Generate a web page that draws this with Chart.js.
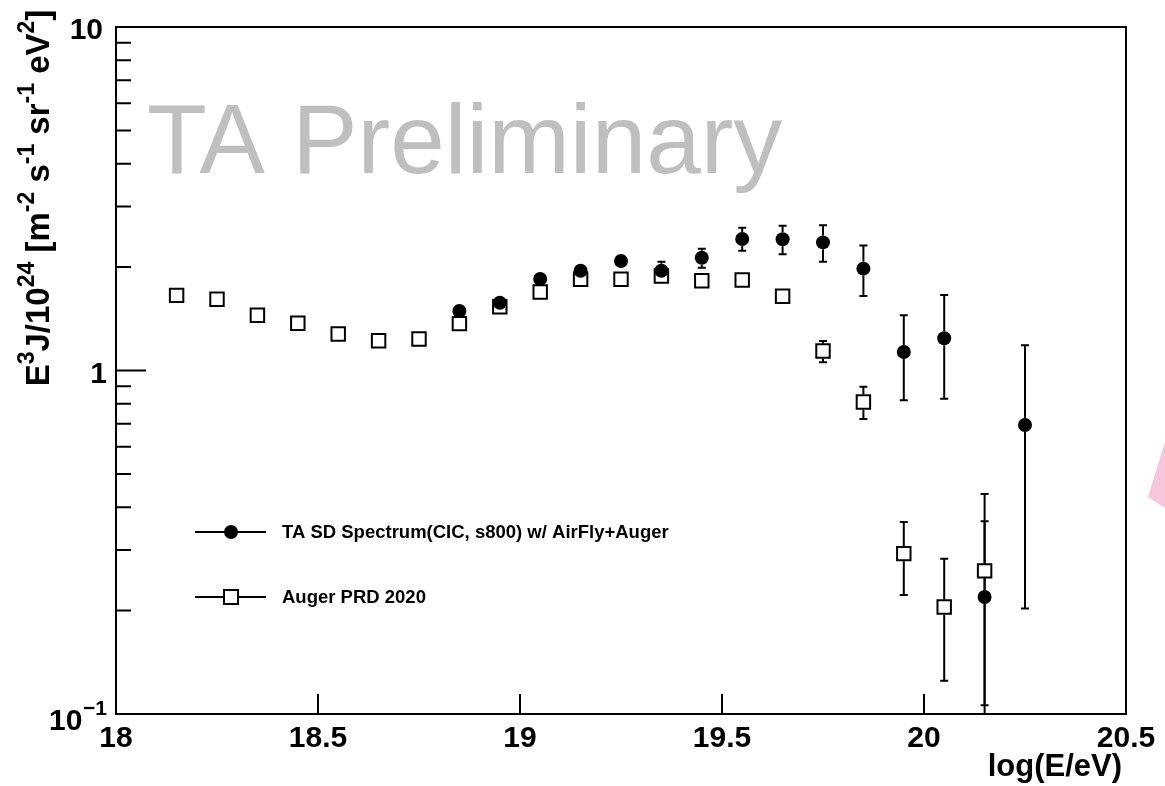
<!DOCTYPE html>
<html>
<head>
<meta charset="utf-8">
<script src="https://cdn.jsdelivr.net/npm/chart.js@4"></script>
<style>
  html, body { margin: 0; padding: 0; background: #fff; }
  canvas { display: block; }
</style>
</head>
<body>
<canvas id="spec" width="1165" height="786"></canvas>
<script>
(function(){
  // --- data ---
  const seriesNames = ['TA SD Spectrum(CIC, s800) w/ AirFly+Auger', 'Auger PRD 2020'];

  const taX    = [18.85, 18.95, 19.05, 19.15, 19.25, 19.35, 19.45, 19.55, 19.65, 19.75, 19.85, 19.95, 20.05, 20.15, 20.25];
  const taY    = [1.490, 1.575, 1.846, 1.952, 2.084, 1.952, 2.130, 2.414, 2.410, 2.360, 1.979, 1.132, 1.241, 0.219, 0.694];
  const taUp   = [0.02, 0.02, 0.03, 0.04, 0.05, 0.12, 0.133, 0.19, 0.23, 0.286, 0.331, 0.316, 0.418, 0.218, 0.49];
  const taDown = [0.02, 0.02, 0.03, 0.04, 0.05, 0.10, 0.138, 0.183, 0.23, 0.287, 0.332, 0.313, 0.413, 0.215, 0.491];

  const augX    = [18.15, 18.25, 18.35, 18.45, 18.55, 18.65, 18.75, 18.85, 18.95, 19.05, 19.15, 19.25, 19.35, 19.45, 19.55, 19.65, 19.75, 19.85, 19.95, 20.05, 20.15];
  const augY    = [1.655, 1.612, 1.448, 1.372, 1.277, 1.221, 1.235, 1.369, 1.533, 1.692, 1.843, 1.843, 1.884, 1.826, 1.835, 1.644, 1.140, 0.810, 0.293, 0.205, 0.261];
  const augUp   = [0.01, 0.01, 0.01, 0.01, 0.01, 0.01, 0.01, 0.01, 0.01, 0.02, 0.02, 0.02, 0.03, 0.03, 0.03, 0.04, 0.079, 0.087, 0.069, 0.078, 0.103];
  const augDown = [0.01, 0.01, 0.01, 0.01, 0.01, 0.01, 0.01, 0.01, 0.01, 0.02, 0.02, 0.02, 0.03, 0.03, 0.03, 0.04, 0.084, 0.088, 0.071, 0.080, 0.155];

  const xTicks = [18, 18.5, 19, 19.5, 20, 20.5];
  const yMajor = [0.1, 1, 10];
  const yMinor = [0.2, 0.3, 0.4, 0.5, 0.6, 0.7, 0.8, 0.9, 2, 3, 4, 5, 6, 7, 8, 9];

  const FONT = '"Liberation Sans", Arial, Helvetica, sans-serif';

  const toPts = (xs, ys) => xs.map((x, i) => ({x: x, y: ys[i]}));

  // error bars with caps; the bar stops at the marker edge
  function drawErrors(ctx, chart, xs, ys, up, down, half) {
    const sx = chart.scales.x, sy = chart.scales.y;
    for (let i = 0; i < xs.length; i++) {
      const px = sx.getPixelForValue(xs[i]);
      const py = sy.getPixelForValue(ys[i]);
      const top = sy.getPixelForValue(ys[i] + up[i]);
      const bot = sy.getPixelForValue(Math.max(ys[i] - down[i], 1e-4));
      ctx.beginPath();
      if (top < py - half - 1) {
        ctx.moveTo(px, py - half); ctx.lineTo(px, top);
        ctx.moveTo(px - 4, top); ctx.lineTo(px + 4, top);
      }
      if (bot > py + half + 1) {
        ctx.moveTo(px, py + half); ctx.lineTo(px, bot);
        ctx.moveTo(px - 4, bot); ctx.lineTo(px + 4, bot);
      }
      ctx.stroke();
    }
  }

  function supText(ctx, parts, x, y, big, small, rise) {
    let cx = x;
    parts.forEach(p => {
      ctx.font = 'bold ' + (p.s ? small : big) + 'px ' + FONT;
      ctx.fillText(p.t, cx, p.s ? y - rise : y);
      cx += ctx.measureText(p.t).width;
    });
    return cx - x;
  }

  const decor = {
    id: 'decor',
    beforeDatasetsDraw(chart) {
      const ctx = chart.ctx, a = chart.chartArea;
      ctx.save();
      // watermark
      ctx.fillStyle = '#bfbfbf';
      ctx.font = '98px ' + FONT;
      ctx.textAlign = 'left';
      ctx.textBaseline = 'alphabetic';
      ctx.fillText('TA Preliminary', 147, 173);

      // error bars
      ctx.beginPath();
      ctx.rect(a.left, a.top, a.right - a.left, a.bottom - a.top);
      ctx.clip();
      ctx.strokeStyle = '#000';
      ctx.lineWidth = 2;
      drawErrors(ctx, chart, taX, taY, taUp, taDown, 7);
      drawErrors(ctx, chart, augX, augY, augUp, augDown, 7.5);
      ctx.restore();
    },
    afterDraw(chart) {
      const ctx = chart.ctx, a = chart.chartArea;
      const sx = chart.scales.x, sy = chart.scales.y;
      ctx.save();
      ctx.strokeStyle = '#000';
      ctx.fillStyle = '#000';
      ctx.lineWidth = 2;
      ctx.strokeRect(a.left, a.top, a.right - a.left, a.bottom - a.top);

      // ticks
      ctx.beginPath();
      xTicks.forEach(v => {
        const p = sx.getPixelForValue(v);
        ctx.moveTo(p, a.bottom); ctx.lineTo(p, a.bottom - 20);
      });
      yMajor.forEach(v => {
        const p = sy.getPixelForValue(v);
        ctx.moveTo(a.left, p); ctx.lineTo(a.left + 30, p);
      });
      yMinor.forEach(v => {
        const p = sy.getPixelForValue(v);
        ctx.moveTo(a.left, p); ctx.lineTo(a.left + 15, p);
      });
      ctx.stroke();

      // x tick labels
      ctx.font = 'bold 30px ' + FONT;
      ctx.textAlign = 'center';
      ctx.textBaseline = 'alphabetic';
      xTicks.forEach(v => {
        ctx.fillText(String(v), sx.getPixelForValue(v), a.bottom + 33);
      });

      // y tick labels
      ctx.textAlign = 'right';
      ctx.fillText('10', 103, sy.getPixelForValue(10) + 12);
      ctx.fillText('1', 107, sy.getPixelForValue(1) + 12);
      ctx.textAlign = 'left';
      ctx.fillText('10', 49, sy.getPixelForValue(0.1) + 16);
      ctx.font = 'bold 21px ' + FONT;
      ctx.fillText('\u22121', 83, sy.getPixelForValue(0.1) + 1);

      // x title
      ctx.font = 'bold 31px ' + FONT;
      ctx.textAlign = 'right';
      ctx.fillText('log(E/eV)', 1122, 776);

      // y title (rotated, with superscripts)
      const yParts = [
        {t: 'E'}, {t: '3', s: 1}, {t: 'J/10'}, {t: '24', s: 1}, {t: ' [m'}, {t: '-2', s: 1},
        {t: ' s'}, {t: '-1', s: 1}, {t: ' sr'}, {t: '-1', s: 1}, {t: ' eV'}, {t: '2', s: 1}, {t: ']'}
      ];
      ctx.textAlign = 'left';
      let w = 0;
      yParts.forEach(p => {
        ctx.font = 'bold ' + (p.s ? 23 : 33) + 'px ' + FONT;
        w += ctx.measureText(p.t).width;
      });
      ctx.save();
      ctx.translate(49, 198 + w / 2);
      ctx.rotate(-Math.PI / 2);
      supText(ctx, yParts, 0, 0, 33, 23, 15);
      ctx.restore();

      // legend
      const rows = [532, 597];
      ctx.lineWidth = 2;
      rows.forEach((ly, k) => {
        ctx.beginPath();
        ctx.moveTo(195, ly); ctx.lineTo(266, ly);
        ctx.stroke();
        if (k === 0) {
          ctx.beginPath();
          ctx.arc(231, ly, 7, 0, Math.PI * 2);
          ctx.fill();
        } else {
          ctx.fillStyle = '#fff';
          ctx.fillRect(224, ly - 7, 14, 14);
          ctx.fillStyle = '#000';
          ctx.strokeRect(224, ly - 7, 14, 14);
        }
        ctx.font = 'bold 18.5px ' + FONT;
        ctx.textAlign = 'left';
        ctx.fillText(seriesNames[k], 282, ly + 6);
      });

      // pink slide fragment at the right edge
      ctx.fillStyle = '#f5c6dd';
      ctx.beginPath();
      ctx.moveTo(1165, 442);
      ctx.lineTo(1148, 497);
      ctx.lineTo(1165, 508);
      ctx.closePath();
      ctx.fill();
      ctx.restore();
    }
  };

  const ctx = document.getElementById('spec').getContext('2d');
  new Chart(ctx, {
    type: 'scatter',
    data: {
      datasets: [{
        label: seriesNames[0],
        data: toPts(taX, taY),
        order: 0,
        pointStyle: 'circle',
        pointRadius: 7,
        backgroundColor: '#000',
        borderColor: '#000',
        borderWidth: 0
      }, {
        label: seriesNames[1],
        data: toPts(augX, augY),
        order: 1,
        pointStyle: 'rect',
        pointRadius: 9.5,
        backgroundColor: '#fff',
        borderColor: '#000',
        borderWidth: 2
      }]
    },
    options: {
      responsive: false,
      animation: false,
      events: [],
      layout: { padding: { left: 116, top: 27, right: 39, bottom: 72 } },
      plugins: { legend: { display: false }, tooltip: { enabled: false } },
      scales: {
        x: { type: 'linear', min: 18, max: 20.5, display: false },
        y: { type: 'logarithmic', min: 0.1, max: 10, display: false }
      }
    },
    plugins: [decor]
  });
})();
</script>
</body>
</html>
